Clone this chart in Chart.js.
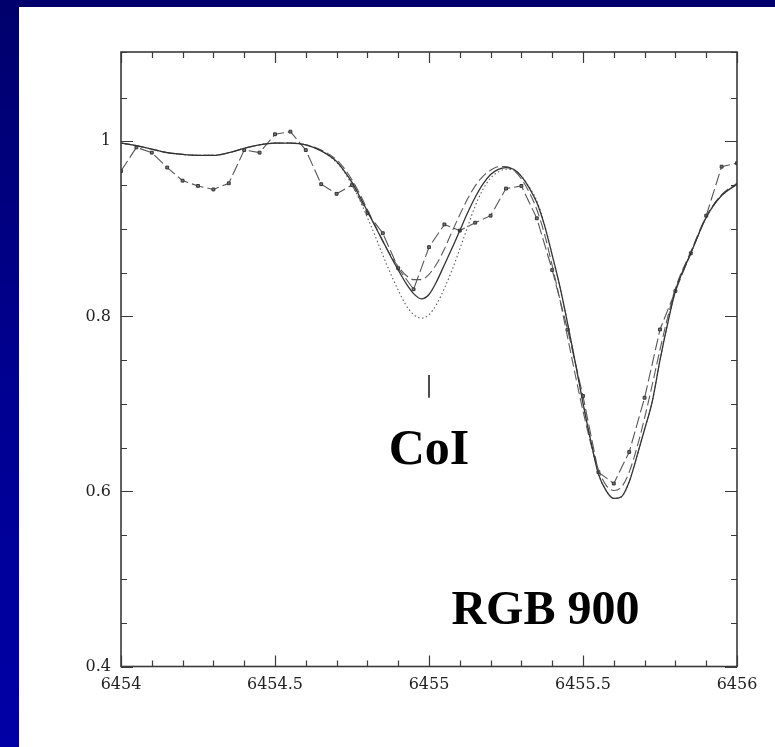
<!DOCTYPE html>
<html>
<head>
<meta charset="utf-8">
<script src="https://cdn.jsdelivr.net/npm/chart.js@4.4.1/dist/chart.umd.min.js"></script>
<style>
  html, body { margin: 0; padding: 0; }
  body { width: 775px; height: 747px; position: relative; overflow: hidden;
         background: linear-gradient(to bottom, #00006c 0%, #000090 50%, #0000a6 100%); }
  #panel { position: absolute; left: 19px; top: 7px; right: 0; bottom: 0; background: #ffffff; }
  #c { position: absolute; left: 0; top: 0; }
</style>
</head>
<body>
<div id="panel"></div>
<canvas id="c" width="775" height="747"></canvas>
<script>
// ---- Data ----
const obsWave = [6454.00,6454.05,6454.10,6454.15,6454.20,6454.25,6454.30,6454.35,6454.40,6454.45,
  6454.50,6454.55,6454.60,6454.65,6454.70,6454.75,6454.80,6454.85,6454.90,6454.95,
  6455.00,6455.05,6455.10,6455.15,6455.20,6455.25,6455.30,6455.35,6455.40,6455.45,
  6455.50,6455.55,6455.60,6455.65,6455.70,6455.75,6455.80,6455.85,6455.90,6455.95,6456.00];
const obsFlux = [0.966,0.993,0.987,0.970,0.955,0.949,0.945,0.952,0.990,0.987,
  1.008,1.011,0.990,0.951,0.940,0.950,0.918,0.895,0.855,0.831,
  0.879,0.905,0.898,0.907,0.915,0.946,0.949,0.912,0.853,0.785,
  0.709,0.622,0.609,0.645,0.707,0.785,0.829,0.872,0.915,0.971,0.975];

const modelWave = [6454.00,6454.05,6454.10,6454.15,6454.20,6454.25,6454.30,6454.35,6454.40,6454.45,
  6454.50,6454.55,6454.60,6454.65,6454.70,6454.725,6454.75,6454.775,6454.80,6454.825,
  6454.85,6454.875,6454.90,6454.925,6454.95,6454.975,6455.00,6455.025,6455.05,6455.075,
  6455.10,6455.125,6455.15,6455.175,6455.20,6455.225,6455.25,6455.275,6455.30,6455.325,
  6455.35,6455.375,6455.40,6455.425,6455.45,6455.475,6455.50,6455.525,6455.55,6455.575,
  6455.60,6455.625,6455.65,6455.675,6455.70,6455.725,6455.75,6455.775,6455.80,6455.85,
  6455.90,6455.95,6456.00];
// best-fit synthetic (solid)
const synthSolid = [0.998,0.995,0.991,0.987,0.985,0.984,0.984,0.987,0.992,0.996,
  0.998,0.998,0.996,0.989,0.977,0.966,0.953,0.937,0.920,0.903,
  0.886,0.869,0.853,0.838,0.826,0.820,0.825,0.840,0.859,0.878,
  0.898,0.918,0.936,0.951,0.962,0.968,0.970,0.968,0.960,0.947,
  0.930,0.904,0.870,0.834,0.792,0.747,0.701,0.658,0.620,0.601,
  0.592,0.594,0.611,0.640,0.671,0.703,0.750,0.792,0.829,0.872,
  0.913,0.938,0.951];
// synthetic (long dashes)
const synthDashed = [0.998,0.995,0.991,0.987,0.985,0.984,0.984,0.987,0.992,0.996,
  0.998,0.998,0.996,0.990,0.979,0.969,0.956,0.940,0.922,0.904,
  0.886,0.870,0.857,0.847,0.842,0.842,0.848,0.860,0.877,0.897,
  0.916,0.934,0.949,0.960,0.967,0.971,0.971,0.967,0.957,0.942,
  0.922,0.894,0.858,0.819,0.776,0.733,0.692,0.655,0.625,0.607,
  0.601,0.605,0.622,0.650,0.684,0.722,0.762,0.799,0.832,0.874,
  0.914,0.939,0.952];
// synthetic (dotted)
const synthDotted = [0.998,0.995,0.991,0.987,0.985,0.984,0.984,0.987,0.992,0.996,
  0.998,0.998,0.996,0.989,0.976,0.965,0.950,0.933,0.913,0.892,
  0.870,0.849,0.830,0.813,0.802,0.798,0.802,0.814,0.832,0.853,
  0.877,0.902,0.926,0.945,0.958,0.965,0.968,0.967,0.960,0.948,
  0.932,0.905,0.870,0.834,0.792,0.747,0.701,0.658,0.620,0.601,
  0.592,0.594,0.611,0.640,0.671,0.703,0.750,0.792,0.829,0.872,
  0.913,0.938,0.951];

const xRange = [6454, 6456];
const yRange = [0.4, 1.102];
const xMajorStep = 0.5, xMinorStep = 0.1;
const yMajorStep = 0.2, yMinorStep = 0.05;

const lineLabel = { text: 'CoI', wave: 6455.0, fluxTop: 0.733, fluxBottom: 0.707, textFlux: 0.631 };
const starLabel = { text: 'RGB 900', wave: 6455.378, flux: 0.449 };

// ---- helpers ----
const pts = (xs, ys) => xs.map((x, i) => ({ x: x, y: ys[i] }));
const isMult = (v, step) => Math.abs(v / step - Math.round(v / step)) < 1e-6;
const tickFont = { family: '"DejaVu Serif", serif', size: 16 };

const framePlugin = {
  id: 'frame',
  afterDatasetsDraw(chart) {
    const { ctx, chartArea: a, scales: { x, y } } = chart;
    ctx.save();
    ctx.strokeStyle = '#3a3a3a';
    ctx.lineWidth = 1.6;
    ctx.strokeRect(a.left, a.top, a.right - a.left, a.bottom - a.top);
    ctx.lineWidth = 1.2;
    ctx.beginPath();
    x.ticks.forEach(t => {
      const px = Math.round(x.getPixelForValue(t.value)) + 0.5;
      const len = isMult(t.value, xMajorStep) ? 11 : 6;
      ctx.moveTo(px, a.bottom); ctx.lineTo(px, a.bottom - len);
      ctx.moveTo(px, a.top); ctx.lineTo(px, a.top + len);
    });
    y.ticks.forEach(t => {
      const py = Math.round(y.getPixelForValue(t.value)) + 0.5;
      const len = isMult(t.value, yMajorStep) ? 12 : 6;
      ctx.moveTo(a.left, py); ctx.lineTo(a.left + len, py);
      ctx.moveTo(a.right, py); ctx.lineTo(a.right - len, py);
    });
    ctx.stroke();

    // CoI marker and label
    ctx.strokeStyle = '#000';
    ctx.lineWidth = 1.4;
    const lx = x.getPixelForValue(lineLabel.wave);
    ctx.beginPath();
    ctx.moveTo(lx, y.getPixelForValue(lineLabel.fluxTop));
    ctx.lineTo(lx, y.getPixelForValue(lineLabel.fluxBottom));
    ctx.stroke();
    ctx.fillStyle = '#000';
    ctx.textAlign = 'center';
    ctx.textBaseline = 'alphabetic';
    ctx.font = 'bold 50px "Liberation Serif", "Times New Roman", serif';
    ctx.fillText(lineLabel.text, lx, y.getPixelForValue(lineLabel.textFlux));
    ctx.font = 'bold 48px "Liberation Serif", "Times New Roman", serif';
    ctx.fillText(starLabel.text, x.getPixelForValue(starLabel.wave), y.getPixelForValue(starLabel.flux));
    ctx.restore();
  }
};

new Chart(document.getElementById('c'), {
  type: 'line',
  data: {
    datasets: [
      { label: 'synthetic', data: pts(modelWave, synthSolid), borderColor: '#333', borderWidth: 1.3,
        pointRadius: 0, cubicInterpolationMode: 'monotone', fill: false },
      { label: 'synthetic 2', data: pts(modelWave, synthDashed), borderColor: '#5a5a5a', borderWidth: 1.1,
        borderDash: [10, 4], pointRadius: 0, cubicInterpolationMode: 'monotone', fill: false },
      { label: 'synthetic 3', data: pts(modelWave, synthDotted), borderColor: '#5a5a5a', borderWidth: 1.1,
        borderDash: [1.5, 2.5], pointRadius: 0, cubicInterpolationMode: 'monotone', fill: false },
      { label: 'observed', data: pts(obsWave, obsFlux), borderColor: '#555', borderWidth: 1.1,
        borderDash: [12, 4], tension: 0, pointStyle: 'rect', pointRadius: 2,
        pointBackgroundColor: '#777', pointBorderColor: '#333', pointBorderWidth: 1, fill: false }
    ]
  },
  options: {
    responsive: false,
    animation: false,
    events: [],
    layout: { padding: { left: 0, top: 52, right: 38, bottom: 0 } },
    scales: {
      x: {
        type: 'linear', min: xRange[0], max: xRange[1],
        grid: { display: false, drawTicks: false }, border: { display: false },
        ticks: { stepSize: xMinorStep, autoSkip: false, maxRotation: 0, padding: 9,
          font: tickFont, color: '#222',
          callback: v => isMult(v, xMajorStep) ? String(Math.round(v * 10) / 10) : '' },
        afterFit: s => { s.height = 80.5; }
      },
      y: {
        type: 'linear', min: yRange[0], max: yRange[1],
        grid: { display: false, drawTicks: false }, border: { display: false },
        ticks: { stepSize: yMinorStep, autoSkip: false, padding: 10,
          font: tickFont, color: '#222',
          callback: v => isMult(v, yMajorStep) ? String(Math.round(v * 10) / 10) : '' },
        afterFit: s => { s.width = 121; }
      }
    },
    plugins: { legend: { display: false }, tooltip: { enabled: false } }
  },
  plugins: [framePlugin]
});
</script>
</body>
</html>
